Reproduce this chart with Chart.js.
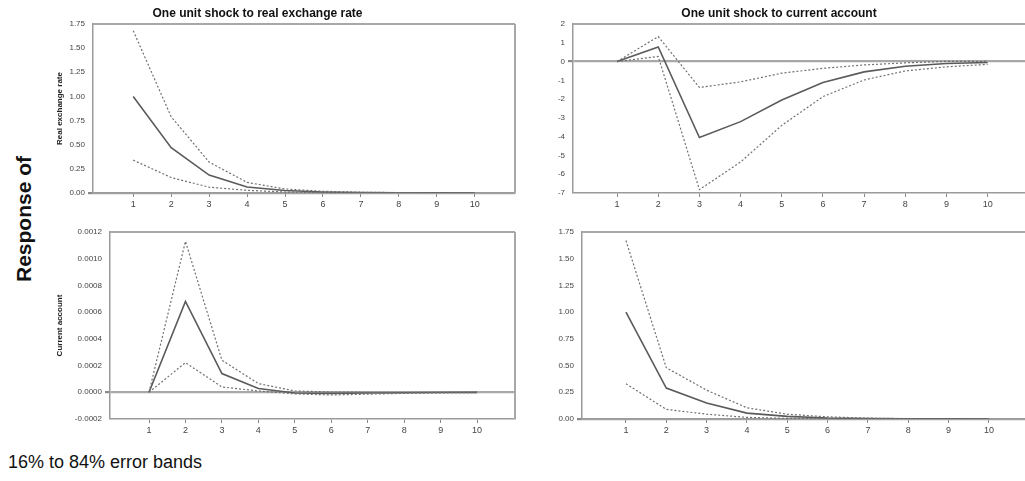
<!DOCTYPE html>
<html>
<head>
<meta charset="utf-8">
<script src="https://cdn.jsdelivr.net/npm/chart.js@4"></script>
<style>
  html, body { margin: 0; padding: 0; background: #fff; }
  body { width: 1025px; height: 481px; position: relative; overflow: hidden; font-family: "Liberation Sans", Arial, sans-serif; }
  canvas { position: absolute; }
  #responseOf {
    position: absolute; left: 24px; top: 219px;
    transform: translate(-50%, -50%) rotate(-90deg);
    font-size: 21px; font-weight: bold; color: #111; white-space: nowrap;
  }
  #bandNote { position: absolute; left: 8px; top: 452px; font-size: 18px; color: #111; }
</style>
</head>
<body>
<div id="responseOf">Response of</div>
<canvas id="rerOnRer" width="583" height="215" style="left:0;top:0"></canvas>
<canvas id="rerOnCa" width="530" height="215" style="left:530px;top:0"></canvas>
<canvas id="caOnRer" width="583" height="226" style="left:0;top:215px"></canvas>
<canvas id="caOnCa" width="530" height="226" style="left:530px;top:215px"></canvas>
<div id="bandNote">16% to 84% error bands</div>
<script>
const periods = [1, 2, 3, 4, 5, 6, 7, 8, 9, 10];

// real exchange rate, shock to real exchange rate
const rerOnRerMid = [1.00, 0.47, 0.185, 0.062, 0.026, 0.011, 0.004, 0.002, 0.001, 0.000];
const rerOnRerHi = [1.68, 0.79, 0.32, 0.11, 0.042, 0.018, 0.008, 0.004, 0.002, 0.001];
const rerOnRerLo = [0.34, 0.16, 0.06, 0.028, 0.010, 0.004, 0.002, 0.001, 0.000, 0.000];

// real exchange rate, shock to current account
const rerOnCaMid = [0, 0.78, -4.05, -3.2, -2.05, -1.12, -0.55, -0.25, -0.10, -0.05];
const rerOnCaHi = [0, 1.33, -1.38, -1.08, -0.62, -0.36, -0.18, -0.07, 0.01, 0.01];
const rerOnCaLo = [0, 0.27, -6.82, -5.35, -3.4, -1.87, -0.98, -0.50, -0.28, -0.15];

// current account, shock to real exchange rate
const caOnRerMid = [0, 0.00068, 0.00014, 0.000028, -0.000005, -0.000008, -0.000005, -0.000003, -0.000002, -0.000001];
const caOnRerHi = [0, 0.00113, 0.00024, 0.000065, 0.00001, 0.000002, 0, 0, 0, 0];
const caOnRerLo = [0, 0.000222, 0.00004, 0.00001, -0.000012, -0.00002, -0.000014, -0.000008, -0.000004, -0.000002];

// current account, shock to current account
const caOnCaMid = [1.00, 0.29, 0.15, 0.055, 0.025, 0.010, 0.004, 0.002, 0.001, 0.000];
const caOnCaHi = [1.67, 0.48, 0.27, 0.105, 0.045, 0.020, 0.008, 0.003, 0.001, 0.000];
const caOnCaLo = [0.33, 0.09, 0.045, 0.015, 0.006, 0.002, 0.001, 0.000, 0.000, 0.000];

const levelTicks = [0, 0.25, 0.5, 0.75, 1, 1.25, 1.5, 1.75];
const rerOnCaTicks = [-7, -6, -5, -4, -3, -2, -1, 0, 1, 2];
const caOnRerTicks = [-0.0002, 0, 0.0002, 0.0004, 0.0006, 0.0008, 0.0010, 0.0012];

const columnTitles = ["One unit shock to real exchange rate", "One unit shock to current account"];
const rowTitles = ["Real exchange rate", "Current account"];

Chart.defaults.font.family = '"Liberation Sans", Arial, sans-serif';
Chart.defaults.devicePixelRatio = 1;

const AXIS_GREY = "#9a9a9a";

// top edge (and optionally right edge) of the plot box
const framePlugin = {
  id: "frame",
  beforeDatasetsDraw(chart, args, opts) {
    const { ctx, chartArea: a } = chart;
    ctx.save();
    ctx.strokeStyle = "#a8a8a8";
    ctx.lineWidth = 2;
    ctx.beginPath();
    ctx.moveTo(a.left, a.top);
    ctx.lineTo(a.right, a.top);
    if (opts.right) {
      ctx.moveTo(a.right, a.top);
      ctx.lineTo(a.right, a.bottom);
    }
    ctx.stroke();
    ctx.restore();
  }
};

function toPoints(values) {
  return periods.map((p, i) => ({ x: p, y: values[i] }));
}

function makePanel(id, p) {
  const line = (values, dashed) => ({
    data: toPoints(values),
    borderColor: dashed ? "#707070" : "#5a5a5a",
    borderWidth: dashed ? 1.2 : 1.6,
    borderDash: dashed ? [2, 2] : [],
    pointRadius: 0,
    tension: 0,
    fill: false
  });

  new Chart(document.getElementById(id), {
    type: "line",
    data: { datasets: [line(p.hi, true), line(p.lo, true), line(p.mid, false)] },
    plugins: [framePlugin],
    options: {
      responsive: false,
      animation: false,
      layout: { padding: { top: p.padTop, right: p.padRight, left: 0, bottom: 0 } },
      plugins: {
        legend: { display: false },
        tooltip: { enabled: false },
        frame: { right: p.rightEdge },
        title: {
          display: !!p.title,
          text: p.title || "",
          color: "#111",
          font: { size: 12, weight: "bold" },
          padding: { top: 6, bottom: 3.6 }
        }
      },
      scales: {
        x: {
          type: "linear",
          min: p.xMin,
          max: p.xMax,
          afterBuildTicks: (s) => { s.ticks = periods.map((v) => ({ value: v })); },
          afterFit: (s) => { s.height = 22; },
          ticks: { color: "#444", font: { size: 9 }, padding: 2, maxRotation: 0, autoSkip: false },
          grid: { drawOnChartArea: false, tickLength: 4, tickColor: "#888" },
          border: { display: true, color: AXIS_GREY, width: 1.5 }
        },
        y: {
          min: p.ticks[0],
          max: p.ticks[p.ticks.length - 1],
          afterBuildTicks: (s) => { s.ticks = p.ticks.map((v) => ({ value: v })); },
          afterFit: (s) => { s.width = p.axisWidth; },
          ticks: {
            color: "#444",
            font: { size: 8 },
            padding: 3,
            autoSkip: false,
            callback: (v) => Number(v).toFixed(p.decimals)
          },
          grid: {
            drawOnChartArea: true,
            tickLength: 5,
            tickColor: "#888",
            color: (c) => (c.tick && Math.abs(c.tick.value) < 1e-12 ? "#a8a8a8" : "rgba(0,0,0,0)"),
            lineWidth: (c) => (c.tick && Math.abs(c.tick.value) < 1e-12 ? 2.2 : 0)
          },
          border: { display: true, color: AXIS_GREY, width: 1.5 },
          title: {
            display: !!p.yTitle,
            text: p.yTitle || "",
            color: "#222",
            font: { size: 8, weight: "bold" },
            padding: { top: 55, bottom: 0 }
          }
        }
      }
    }
  });
}

makePanel("rerOnRer", {
  title: columnTitles[0], yTitle: rowTitles[0],
  mid: rerOnRerMid, hi: rerOnRerHi, lo: rerOnRerLo,
  ticks: levelTicks, decimals: 2,
  axisWidth: 93, padTop: 0, padRight: 68, rightEdge: true,
  xMin: -0.06, xMax: 11.06
});

makePanel("rerOnCa", {
  title: columnTitles[1],
  mid: rerOnCaMid, hi: rerOnCaHi, lo: rerOnCaLo,
  ticks: rerOnCaTicks, decimals: 0,
  axisWidth: 43, padTop: 0, padRight: 32, rightEdge: false,
  xMin: -0.07, xMax: 10.98
});

makePanel("caOnRer", {
  yTitle: rowTitles[1],
  mid: caOnRerMid, hi: caOnRerHi, lo: caOnRerLo,
  ticks: caOnRerTicks, decimals: 4,
  axisWidth: 110, padTop: 17, padRight: 68, rightEdge: true,
  xMin: -0.07, xMax: 11.04
});

makePanel("caOnCa", {
  mid: caOnCaMid, hi: caOnCaHi, lo: caOnCaLo,
  ticks: levelTicks, decimals: 2,
  axisWidth: 52, padTop: 17, padRight: 32, rightEdge: false,
  xMin: -0.09, xMax: 10.97
});
</script>
</body>
</html>
